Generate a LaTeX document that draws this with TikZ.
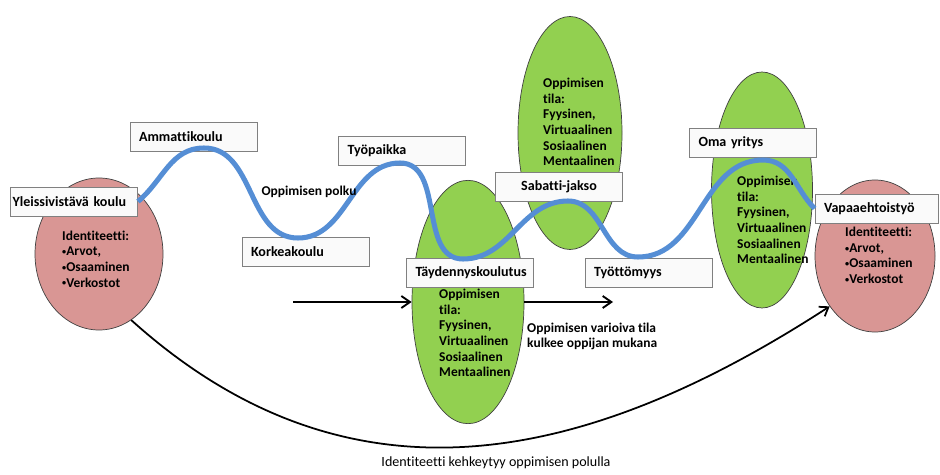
\documentclass[tikz,border=0pt]{standalone}
\usepackage{fontspec}
\setmainfont{Carlito}[Ligatures=NoCommon]
\usetikzlibrary{shapes.geometric,arrows.meta}
\definecolor{pathblue}{RGB}{85,142,213}
\definecolor{spacegreen}{RGB}{146,208,80}
\definecolor{idpink}{RGB}{217,150,148}
\newcommand\idbullet{\raisebox{0.2ex}{\fontsize{7}{7}\selectfont•}}
\begin{document}
\begin{tikzpicture}[x=0.3mm,y=0.3mm,
  stage/.style={draw=gray,fill=gray!4,line width=0.8pt,minimum width=38.1mm,minimum height=8.7mm,inner xsep=2.7mm,text width=32.7mm,align=left,font=\fontsize{12}{14}\selectfont\bfseries},
  learnspace/.style={ellipse,draw=black!75,fill=spacegreen,line width=0.6pt,inner sep=0pt},
  identity/.style={ellipse,draw=black!75,fill=idpink,line width=0.6pt,inner sep=0pt},
  note/.style={inner sep=0pt,align=left,font=\fontsize{11.5}{13.3}\selectfont\bfseries},
  wave/.style={draw=pathblue,line width=4.3pt},
  flow/.style={line width=1.6pt,-{Straight Barb[length=2.6mm,width=3.6mm]}},
  idarrow/.style={line width=1.5pt,-{Straight Barb[length=2.4mm,width=3.4mm]}}]
\useasboundingbox (0,0) rectangle (940,-475);
% Identity circles
\node[identity,minimum width=38.4mm,minimum height=45.6mm] (leftid) at (99,-254) {};
\node[identity,minimum width=36mm,minimum height=45.6mm] (rightid) at (875,-256) {};
\node[note,anchor=west] (lefttext) at (62,-259) {Identiteetti:\\\idbullet Arvot,\\\idbullet Osaaminen\\\idbullet Verkostot};
\node[note,anchor=west] (righttext) at (845,-255.5) {Identiteetti:\\\idbullet Arvot,\\\idbullet Osaaminen\\\idbullet Verkostot};
% Learning spaces
\node[learnspace,minimum width=33.6mm,minimum height=73mm] (taydell) at (468,-302) {};
\node[learnspace,minimum width=31.2mm,minimum height=69.9mm] (sabell) at (570,-133) {};
\node[learnspace,minimum width=30.3mm,minimum height=70.8mm] (omaell) at (762,-190) {};
\node[note,anchor=west] (taydtext) at (439,-333) {Oppimisen\\tila:\\Fyysinen,\\Virtuaalinen\\Sosiaalinen\\Mentaalinen};
\node[note,anchor=west] (sabtext) at (543,-122) {Oppimisen\\tila:\\Fyysinen,\\Virtuaalinen\\Sosiaalinen\\Mentaalinen};
\node[note,anchor=west] (omatext) at (737,-220) {Oppimisen\\tila:\\Fyysinen,\\Virtuaalinen\\Sosiaalinen\\Mentaalinen};
% Moving space
\coordinate (flowin) at (293,-302);
\coordinate (flowout) at (613,-302);
\draw[flow] (flowin) -- (taydell.west);
\draw[flow] (taydell.east) -- (flowout);
\node[note,anchor=west] (moving) at (527,-336.5) {Oppimisen varioiva tila\\kulkee oppijan mukana};
% Stages
\node[stage,inner xsep=0.6mm,text width=36.9mm] (yleis) at (74,-201.5) {Yleissivistävä koulu};
\node[stage] (ammatti) at (193.5,-137) {Ammattikoulu};
\node[stage] (korkea) at (305.5,-251.5) {Korkeakoulu};
\node[stage] (tyopaikka) at (402,-151) {Työpaikka};
\node[stage] (taydennys) at (470,-272.5) {Täydennyskoulutus};
\node[stage,align=center] (sabatti) at (559,-186.5) {Sabatti-jakso};
\node[stage] (tyottomyys) at (648.5,-272.5) {Työttömyys};
\node[stage] (oma) at (753,-143) {Oma yritys};
\node[stage,minimum width=36.9mm,text width=31.5mm] (vapaa) at (876.5,-208.5) {Vapaaehtoistyö};
% Learning path
\coordinate (p1) at (204,-148);
\coordinate (t1) at (298,-238);
\coordinate (p2) at (400,-163);
\coordinate (t2) at (463,-259);
\coordinate (p3) at (568,-201);
\coordinate (t3) at (638,-257);
\coordinate (p4) at (763,-160);
\draw[wave] (yleis.east) to[out=40,in=180] (p1) to[out=0,in=180] (t1) to[out=0,in=180] (p2)
  to[out=0,in=180] (t2) to[out=0,in=180] (p3) to[out=0,in=180] (t3) to[out=0,in=180] (p4)
  to[out=0,in=135] (vapaa.west);
\node[note] (polku) at (309,-192) {Oppimisen polku};
% Identity develops
\draw[idarrow] (leftid.-64) to[out=-42,in=-147,looseness=1.07] (rightid.-132);
\node[font=\fontsize{12}{14}\selectfont,inner sep=0pt] (caption) at (496,-463) {Identiteetti kehkeytyy oppimisen polulla};
\end{tikzpicture}
\end{document}
